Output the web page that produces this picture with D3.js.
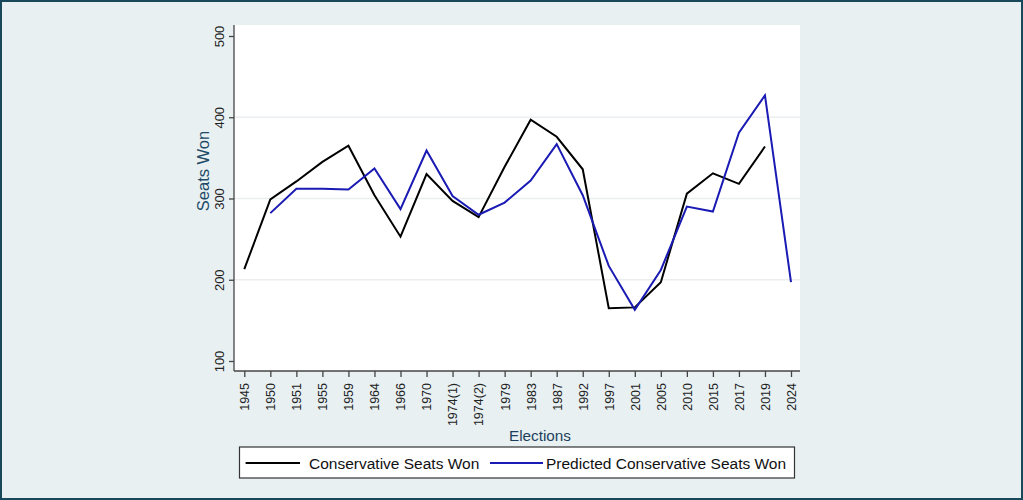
<!DOCTYPE html>
<html>
<head>
<meta charset="utf-8">
<script src="https://cdn.jsdelivr.net/npm/d3@7/dist/d3.min.js"></script>
<style>
html,body{margin:0;padding:0;background:#e8f0f2;}
svg{display:block;font-family:"Liberation Sans",Arial,sans-serif;}
</style>
</head>
<body>
<svg id="chart" width="1023" height="500"></svg>
<script>
const elections = ["1945","1950","1951","1955","1959","1964","1966","1970","1974(1)","1974(2)","1979","1983","1987","1992","1997","2001","2005","2010","2015","2017","2019","2024"];
const conservativeSeats = [213,299,321,345,365,304,253,330,297,277,339,397,376,336,165,166,197,306,331,318,364,null];
const predictedSeats = [null,282,312,312,311,337,287,359,303,280,295,322,367,304,217,163,212,290,284,381,427,197];
const yTicks = [100,200,300,400,500];
const gridTicks = [200,300,400];
const seriesNames = ["Conservative Seats Won","Predicted Conservative Seats Won"];

const svg = d3.select("#chart");
const W = 1023, H = 500;

svg.append("rect").attr("x",0).attr("y",0).attr("width",W).attr("height",H).attr("fill","#e8f0f2");
svg.append("rect").attr("x",1).attr("y",1).attr("width",W-2).attr("height",H-2)
  .attr("fill","none").attr("stroke","#17495b").attr("stroke-width",2);

const plot = {left:234, right:800, top:25, bottom:371};
svg.append("rect").attr("x",plot.left).attr("y",plot.top)
  .attr("width",plot.right-plot.left).attr("height",plot.bottom-plot.top).attr("fill","#ffffff");

const x = d3.scalePoint().domain(elections).range([244.3,791]);
const y = d3.scaleLinear().domain([100,500]).range([361,36]);

// gridlines
svg.append("g").selectAll("line").data(gridTicks).join("line")
  .attr("x1",plot.left).attr("x2",plot.right)
  .attr("y1",d=>y(d)).attr("y2",d=>y(d))
  .attr("stroke","#eaeef0").attr("stroke-width",1.5);

// y axis
const yAxis = svg.append("g").attr("transform",`translate(${plot.left},0)`)
  .call(d3.axisLeft(y).tickValues(yTicks).tickSize(5).tickPadding(4).tickSizeOuter(0));
yAxis.select(".domain").attr("d",`M0,${plot.top}V${plot.bottom}`).attr("stroke","#444").attr("stroke-width",1.3);
yAxis.selectAll(".tick line").attr("stroke","#444").attr("stroke-width",1.3);
yAxis.selectAll(".tick text")
  .attr("font-size",13).attr("fill","#222")
  .attr("transform","rotate(-90)")
  .attr("x",0).attr("y",-10).attr("text-anchor","middle").attr("dy","0");
yAxis.selectAll(".tick text").each(function(){ /* position rotated labels */ });

// x axis
const xAxis = svg.append("g").attr("transform",`translate(0,${plot.bottom})`)
  .call(d3.axisBottom(x).tickSize(6).tickSizeOuter(0));
xAxis.select(".domain").attr("d",`M${plot.left},0H${plot.right}`).attr("stroke","#444").attr("stroke-width",1.3);
xAxis.selectAll(".tick line").attr("stroke","#444").attr("stroke-width",1.3);
xAxis.selectAll(".tick text")
  .attr("font-size",12.5).attr("fill","#222")
  .attr("transform","rotate(-90)")
  .attr("text-anchor","end")
  .attr("x",-12).attr("y",0).attr("dy","0.35em");

// axis titles
svg.append("text").attr("transform","translate(209,171) rotate(-90)")
  .attr("text-anchor","middle").attr("font-size",16.5).attr("fill","#1d4a66").text("Seats Won");
svg.append("text").attr("x",540).attr("y",441)
  .attr("text-anchor","middle").attr("font-size",15.3).attr("fill","#1d3f5c").text("Elections");

// lines
const line = d3.line().defined(d=>d.v!=null).x(d=>x(d.k)).y(d=>y(d.v));
const s1 = elections.map((k,i)=>({k, v:conservativeSeats[i]}));
const s2 = elections.map((k,i)=>({k, v:predictedSeats[i]}));
svg.append("path").datum(s1).attr("d",line).attr("fill","none")
  .attr("stroke","#000").attr("stroke-width",2).attr("stroke-linejoin","miter");
svg.append("path").datum(s2).attr("d",line).attr("fill","none")
  .attr("stroke","#1a1ab4").attr("stroke-width",2).attr("stroke-linejoin","miter");

// legend
const lg = svg.append("g");
lg.append("rect").attr("x",239.5).attr("y",447).attr("width",555).attr("height",31)
  .attr("fill","#fff").attr("stroke","#333").attr("stroke-width",1.2);
const legendItems = [
  {name:seriesNames[0], color:"#000", x1:245.6, x2:300, tx:309},
  {name:seriesNames[1], color:"#1a1ab4", x1:490, x2:543, tx:546}
];
legendItems.forEach(it=>{
  lg.append("line").attr("x1",it.x1).attr("x2",it.x2).attr("y1",463).attr("y2",463)
    .attr("stroke",it.color).attr("stroke-width",2);
  lg.append("text").attr("x",it.tx).attr("y",469).attr("font-size",15.5).attr("fill","#111").text(it.name);
});
</script>
</body>
</html>
